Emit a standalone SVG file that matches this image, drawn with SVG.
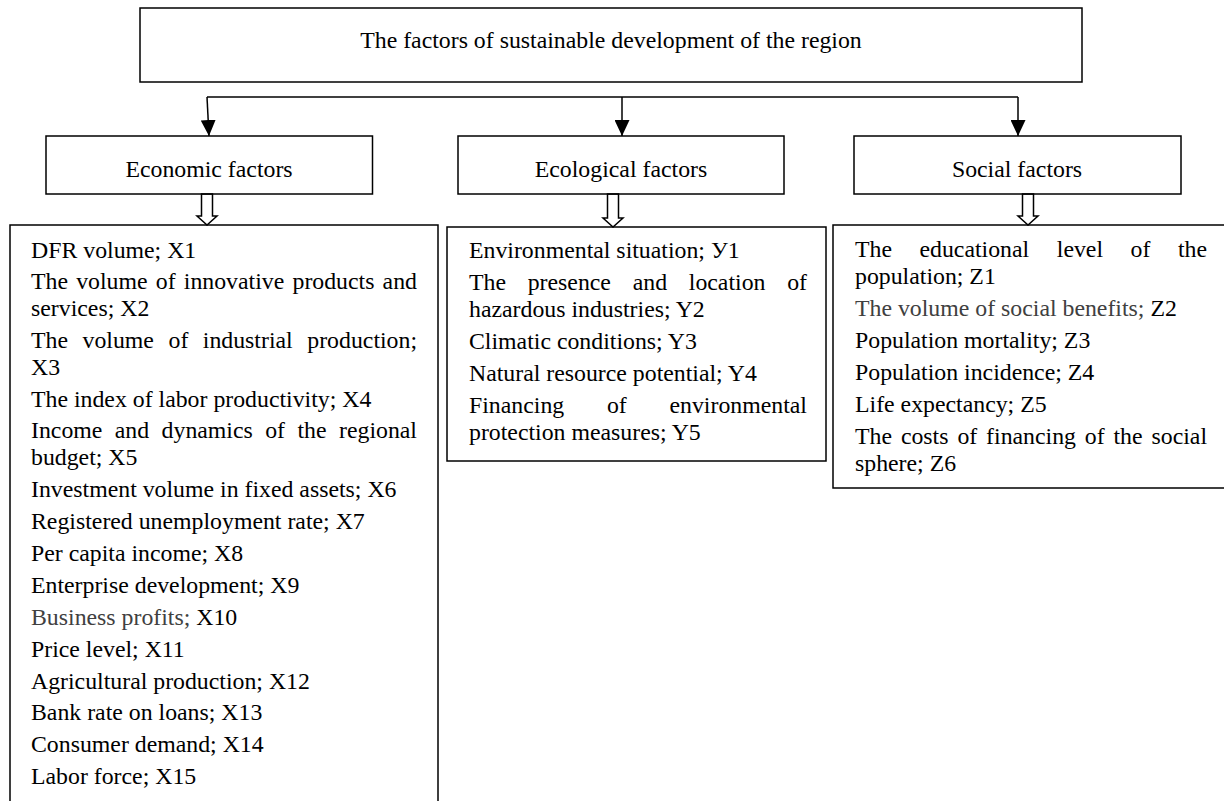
<svg xmlns="http://www.w3.org/2000/svg" width="1224" height="801" viewBox="0 0 1224 801">
<defs>
<style>
.box{fill:none;stroke:#000;stroke-width:1.5}
.hb{fill:#fff;stroke:#000;stroke-width:1.5}
.ln{fill:none;stroke:#000;stroke-width:1.5}
.t{font-family:"Liberation Serif","Times New Roman",serif;font-size:23.8px;fill:#000}
.c{text-anchor:middle}
.g{fill:#404040}
</style>
<marker id="ah" viewBox="0 0 16 15" refX="16" refY="7.5" markerWidth="16" markerHeight="15" markerUnits="userSpaceOnUse" orient="auto">
<path d="M0,0 L16,7.5 L0,15 Z" fill="#000"/>
</marker>
</defs>
<rect width="1224" height="801" fill="#fff"/>

<g id="connectors">
<polyline class="ln" points="207,97 1018,97"/>
<line class="ln" x1="207" y1="97" x2="209" y2="136" marker-end="url(#ah)"/>
<line class="ln" x1="622" y1="97" x2="622" y2="136" marker-end="url(#ah)"/>
<line class="ln" x1="1018" y1="97" x2="1018" y2="136" marker-end="url(#ah)"/>
<path class="hb" d="M201.5,194 V216 H197 L207,225 L217,216 H212.5 V194 Z"/>
<path class="hb" d="M607.5,194 V218 H603 L613,227 L623,218 H618.5 V194 Z"/>
<path class="hb" d="M1022.5,194 V216 H1018 L1028,225 L1038,216 H1033.5 V194 Z"/>
</g>

<g id="root">
<rect class="box" x="140" y="8" width="942" height="74"/>
<text class="t c" x="611" y="48">The factors of sustainable development of the region</text>
</g>

<g id="economic">
<rect class="box" x="46" y="136" width="326.5" height="58"/>
<text class="t c" x="209" y="177">Economic factors</text>
</g>

<g id="ecological">
<rect class="box" x="458" y="136" width="326" height="58"/>
<text class="t c" x="621" y="177">Ecological factors</text>
</g>

<g id="social">
<rect class="box" x="854" y="136" width="327" height="58"/>
<text class="t c" x="1017" y="177">Social factors</text>
</g>

<g id="economic-list">
<path class="ln" d="M10,801 V225 H438 V801"/>
<text class="t" x="31" y="258">DFR volume; X1</text>
<text class="t" y="289"><tspan x="31">The</tspan><tspan x="76.2">volume</tspan><tspan x="155.8">of</tspan><tspan x="183.8">innovative</tspan><tspan x="292.5">products</tspan><tspan x="382.6">and</tspan></text>
<text class="t" x="31" y="316">services; X2</text>
<text class="t" y="348"><tspan x="31">The</tspan><tspan x="82.5">volume</tspan><tspan x="168.5">of</tspan><tspan x="202.8">industrial</tspan><tspan x="307.3">production;</tspan></text>
<text class="t" x="31" y="375">X3</text>
<text class="t" x="31" y="407">The index of labor productivity; X4</text>
<text class="t" y="438"><tspan x="31">Income</tspan><tspan x="114.8">and</tspan><tspan x="161.6">dynamics</tspan><tspan x="265.2">of</tspan><tspan x="297.5">the</tspan><tspan x="339">regional</tspan></text>
<text class="t" x="31" y="465">budget; X5</text>
<text class="t" x="31" y="497">Investment volume in fixed assets; X6</text>
<text class="t" x="31" y="529">Registered unemployment rate; X7</text>
<text class="t" x="31" y="561">Per capita income; X8</text>
<text class="t" x="31" y="593">Enterprise development; X9</text>
<text class="t" x="31" y="625"><tspan class="g">Business profits;</tspan> X10</text>
<text class="t" x="31" y="657">Price level; X11</text>
<text class="t" x="31" y="689">Agricultural production; X12</text>
<text class="t" x="31" y="720">Bank rate on loans; X13</text>
<text class="t" x="31" y="752">Consumer demand; X14</text>
<text class="t" x="31" y="784">Labor force; X15</text>
</g>

<g id="ecological-list">
<rect class="box" x="447" y="227" width="379" height="234"/>
<text class="t" x="469" y="258">Environmental situation; У1</text>
<text class="t" y="290"><tspan x="469">The</tspan><tspan x="527.7">presence</tspan><tspan x="632.7">and</tspan><tspan x="688.8">location</tspan><tspan x="787.2">of</tspan></text>
<text class="t" x="469" y="317">hazardous industries; Y2</text>
<text class="t" x="469" y="349">Climatic conditions; Y3</text>
<text class="t" x="469" y="381">Natural resource potential; Y4</text>
<text class="t" y="413"><tspan x="469">Financing</tspan><tspan x="606.9">of</tspan><tspan x="669.5">environmental</tspan></text>
<text class="t" x="469" y="440">protection measures; Y5</text>
</g>

<g id="social-list">
<path class="ln" d="M1230,225 H833 V488 H1230"/>
<text class="t" y="257"><tspan x="855">The</tspan><tspan x="919.5">educational</tspan><tspan x="1056.8">level</tspan><tspan x="1130.6">of</tspan><tspan x="1177.9">the</tspan></text>
<text class="t" x="855" y="284">population; Z1</text>
<text class="t" x="855" y="316"><tspan class="g">The volume of social benefits;</tspan> Z2</text>
<text class="t" x="855" y="348">Population mortality; Z3</text>
<text class="t" x="855" y="380">Population incidence; Z4</text>
<text class="t" x="855" y="412">Life expectancy; Z5</text>
<text class="t" y="444"><tspan x="855">The</tspan><tspan x="900.9">costs</tspan><tspan x="957.4">of</tspan><tspan x="986.1">financing</tspan><tspan x="1084.8">of</tspan><tspan x="1113.5">the</tspan><tspan x="1151.5">social</tspan></text>
<text class="t" x="855" y="471">sphere; Z6</text>
</g>
</svg>
